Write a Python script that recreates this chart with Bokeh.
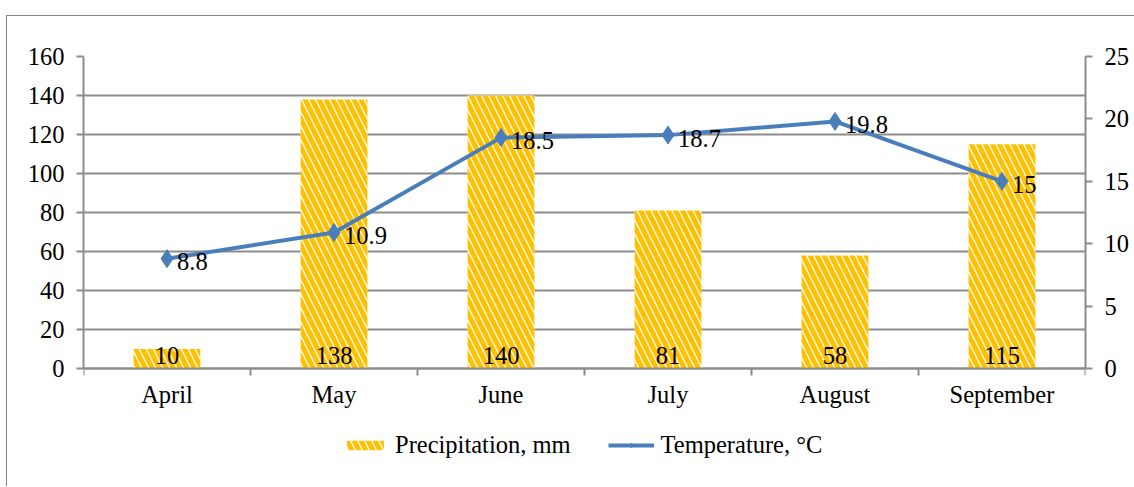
from bokeh.plotting import figure
from bokeh.models import (Range1d, LinearAxis, FixedTicker, ColumnDataSource,
                          Legend, LegendItem)
from bokeh.core.properties import value
from bokeh.embed import file_html
from bokeh.resources import INLINE

months = ["April", "May", "June", "July", "August", "September"]
precipitation = [10, 138, 140, 81, 58, 115]
temperature = [8.8, 10.9, 18.5, 18.7, 19.8, 15]
left_ticks = [0, 20, 40, 60, 80, 100, 120, 140, 160]
right_ticks = [0, 5, 10, 15, 20, 25]

FONT = "Liberation Serif"
FS = "24.5px"
GRID = "#8c8c8c"
GOLD = "#FFC000"
BLUE = "#4A7EBB"

# plot area: 312px for the value range, plus room underneath for the
# category labels and the legend, which live inside the frame
PLOT_PX = 312
BELOW_PX = 118
P_MAX, T_MAX = left_ticks[-1], right_ticks[-1]

xpos = [i + 0.5 for i in range(len(months))]
src = ColumnDataSource(dict(
    x=xpos, month=months, prec=precipitation, temp=temperature,
    prec_lbl=[str(v) for v in precipitation],
    temp_lbl=[str(v) for v in temperature],
))

# the figure sits 6px / 15px inside the page, framed on top and left
p = figure(width=1128, frame_width=1002, frame_height=PLOT_PX + BELOW_PX,
           x_range=Range1d(0, len(months)),
           y_range=Range1d(-P_MAX * BELOW_PX / PLOT_PX, P_MAX),
           output_backend="svg", toolbar_location=None,
           min_border_left=76, min_border_right=50,
           min_border_top=40, min_border_bottom=0)
p.margin = (15, 0, 0, 6)
p.styles = {"border-top": "1.5px solid #868686",
            "border-left": "1.5px solid #868686"}
p.background_fill_color = "white"
p.border_fill_color = "white"
p.outline_line_color = None
p.extra_y_ranges = {"temp": Range1d(-T_MAX * BELOW_PX / PLOT_PX, T_MAX)}

# bars: white fill with gold diagonal stripes
bars = p.vbar(x="x", top="prec", width=0.4, source=src,
              fill_color="white", line_color=None,
              hatch_pattern="\\", hatch_color=GOLD,
              hatch_scale=14, hatch_weight=5)

# temperature line with diamond markers
line = p.line(x="x", y="temp", source=src, y_range_name="temp",
              line_color=BLUE, line_width=4)
pts = p.scatter(x="x", y="temp", source=src, y_range_name="temp",
                marker="diamond", size=18, fill_color=BLUE, line_color=BLUE)

# value labels
p.text(x="x", y=0, text="prec_lbl", source=src,
       text_font=value(FONT), text_font_size=FS, text_color="black",
       text_align="center", text_baseline="alphabetic", y_offset=-13)
p.text(x="x", y="temp", text="temp_lbl", source=src, y_range_name="temp",
       text_font=value(FONT), text_font_size=FS, text_color="black",
       text_align="left", text_baseline="middle", x_offset=10, y_offset=3)

# axes: category axis pinned at zero, value axes limited to their ranges
p.xaxis.fixed_location = 0
p.xaxis.ticker = FixedTicker(ticks=xpos, minor_ticks=list(range(len(months) + 1)))
p.xaxis.major_label_overrides = {x: m for x, m in zip(xpos, months)}
p.yaxis.ticker = FixedTicker(ticks=left_ticks)
p.yaxis.bounds = (0, P_MAX)

right = LinearAxis(y_range_name="temp", ticker=FixedTicker(ticks=right_ticks),
                   bounds=(0, T_MAX))
p.add_layout(right, "right")

for ax in [p.xaxis[0], p.yaxis[0], right]:
    ax.axis_line_color = GRID
    ax.axis_line_width = 2
    ax.major_tick_line_color = GRID
    ax.major_tick_line_width = 2
    ax.major_tick_in = 0
    ax.major_tick_out = 7
    ax.minor_tick_in = 0
    ax.minor_tick_out = 0
    ax.major_label_text_font = FONT
    ax.major_label_text_font_size = FS
    ax.major_label_text_color = "black"
    ax.major_label_standoff = 12

p.xaxis.major_tick_out = 0
p.xaxis.minor_tick_out = 7
p.xaxis.minor_tick_line_color = GRID
p.xaxis.minor_tick_line_width = 2
p.xaxis.major_label_standoff = 5

p.xgrid.grid_line_color = None
p.ygrid.ticker = FixedTicker(ticks=left_ticks)
p.ygrid.grid_line_color = GRID
p.ygrid.grid_line_width = 2

legend = Legend(items=[LegendItem(label="Precipitation, mm", renderers=[bars]),
                       LegendItem(label="Temperature, °C", renderers=[line, pts])],
                orientation="horizontal", location=(259, 27),
                label_text_font=FONT, label_text_font_size=FS,
                label_text_color="black", glyph_width=46, glyph_height=12,
                label_standoff=7, spacing=37, padding=0, margin=0,
                border_line_color=None, background_fill_alpha=0)
p.add_layout(legend, "center")

open("out.html", "w").write(file_html(p, INLINE))
